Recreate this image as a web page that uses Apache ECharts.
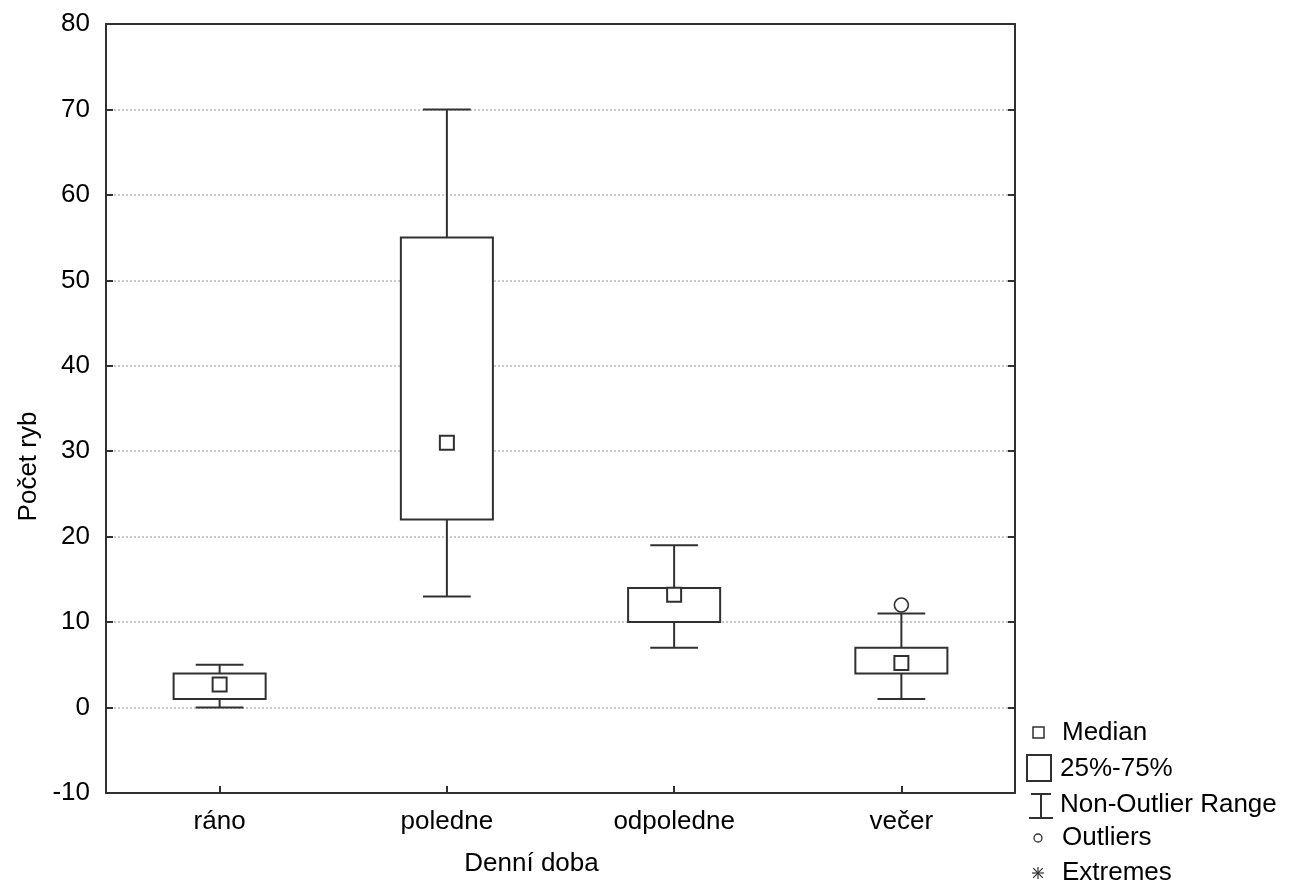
<!DOCTYPE html>
<html>
<head>
<meta charset="utf-8">
<script src="https://cdn.jsdelivr.net/npm/echarts@6/dist/echarts.min.js"></script>
<style>
  html, body { margin: 0; padding: 0; background: #fff; }
  #chart { width: 1289px; height: 884px; }
</style>
</head>
<body>
<div id="chart"></div>
<script>
// Počet ryb podle denní doby – krabicové grafy
const categories = ['ráno', 'poledne', 'odpoledne', 'večer'];
const minValues = [0, 13, 7, 1];        // spodní hranice rozsahu bez odlehlých hodnot
const q1Values = [1, 22, 10, 4];        // 25 %
const medianValues = [2.7, 31, 13.2, 5.2];
const q3Values = [4, 55, 14, 7];        // 75 %
const maxValues = [5, 70, 19, 11];      // horní hranice rozsahu bez odlehlých hodnot
const outlierPoints = [['večer', 12]];
const yMin = -10, yMax = 80, yStep = 10;

const legendLabels = ['Median', '25%-75%', 'Non-Outlier Range', 'Outliers', 'Extremes'];

const INK = '#303030';
const FONT = 'Liberation Sans, Arial, sans-serif';
const FS = 26;

const boxData = categories.map((c, i) =>
  [i, minValues[i], q1Values[i], medianValues[i], q3Values[i], maxValues[i]]);

function renderBox(params, api) {
  const idx = api.value(0);
  const band = api.size([1, 0])[0];
  const boxW = band * 0.405;
  const capW = band * 0.21;
  const pMin = api.coord([idx, api.value(1)]);
  const pQ1 = api.coord([idx, api.value(2)]);
  const pMed = api.coord([idx, api.value(3)]);
  const pQ3 = api.coord([idx, api.value(4)]);
  const pMax = api.coord([idx, api.value(5)]);
  const x = pMin[0];
  const ls = { stroke: INK, lineWidth: 2, fill: null };
  const sq = 14;
  return {
    type: 'group',
    children: [
      { type: 'line', shape: { x1: x, y1: pMax[1], x2: x, y2: pQ3[1] }, style: ls },
      { type: 'line', shape: { x1: x - capW / 2, y1: pMax[1], x2: x + capW / 2, y2: pMax[1] }, style: ls },
      { type: 'line', shape: { x1: x, y1: pQ1[1], x2: x, y2: pMin[1] }, style: ls },
      { type: 'line', shape: { x1: x - capW / 2, y1: pMin[1], x2: x + capW / 2, y2: pMin[1] }, style: ls },
      { type: 'rect', shape: { x: x - boxW / 2, y: pQ3[1], width: boxW, height: pQ1[1] - pQ3[1] },
        style: { stroke: INK, lineWidth: 2, fill: '#fff' } },
      { type: 'rect', shape: { x: x - sq / 2, y: pMed[1] - sq / 2, width: sq, height: sq },
        style: { stroke: INK, lineWidth: 2, fill: '#fff' } }
    ]
  };
}

// legenda vpravo dole
const legendX = 1060;
const rowY = [733, 769, 805, 838, 873];
const legendGraphics = [];
legendGraphics.push({ type: 'rect', shape: { x: 1033, y: 727, width: 11, height: 11 },
  style: { stroke: INK, lineWidth: 1.5, fill: '#fff' } });
legendGraphics.push({ type: 'rect', shape: { x: 1027, y: 755, width: 24, height: 26 },
  style: { stroke: INK, lineWidth: 2, fill: '#fff' } });
legendGraphics.push({ type: 'polyline', shape: { points: [[1031, 794], [1051, 794]] }, style: { stroke: INK, lineWidth: 2 } });
legendGraphics.push({ type: 'polyline', shape: { points: [[1041, 794], [1041, 818]] }, style: { stroke: INK, lineWidth: 2 } });
legendGraphics.push({ type: 'polyline', shape: { points: [[1029, 818], [1053, 818]] }, style: { stroke: INK, lineWidth: 2 } });
legendGraphics.push({ type: 'circle', shape: { cx: 1038, cy: 838, r: 4 }, style: { stroke: INK, lineWidth: 1.3, fill: '#fff' } });
// hvězdička pro extrémy
const ax = 1038, ay = 873, ar = 6;
legendGraphics.push({ type: 'polyline', shape: { points: [[ax - ar, ay], [ax + ar, ay]] }, style: { stroke: INK, lineWidth: 1.2 } });
legendGraphics.push({ type: 'polyline', shape: { points: [[ax, ay - ar], [ax, ay + ar]] }, style: { stroke: INK, lineWidth: 1.2 } });
legendGraphics.push({ type: 'polyline', shape: { points: [[ax - ar * 0.8, ay - ar * 0.8], [ax + ar * 0.8, ay + ar * 0.8]] }, style: { stroke: INK, lineWidth: 1.2 } });
legendGraphics.push({ type: 'polyline', shape: { points: [[ax - ar * 0.8, ay + ar * 0.8], [ax + ar * 0.8, ay - ar * 0.8]] }, style: { stroke: INK, lineWidth: 1.2 } });
legendLabels.forEach((t, i) => {
  legendGraphics.push({ type: 'text', x: i === 0 || i >= 3 ? legendX + 2 : legendX, y: rowY[i],
    style: { text: t, font: FS + 'px ' + FONT, fill: '#000', verticalAlign: 'middle', align: 'left' } });
});

const frameLine = { show: true, onZero: false, lineStyle: { color: INK, width: 2 } };
const tickStyle = { show: true, inside: true, length: 7, lineStyle: { color: INK, width: 2 } };

const chart = echarts.init(document.getElementById('chart'), null, { renderer: 'canvas' });
chart.setOption({
  backgroundColor: '#fff',
  animation: false,
  grid: { left: 106, right: 274, top: 24, bottom: 91 },
  xAxis: [{
    type: 'category',
    data: categories,
    boundaryGap: true,
    position: 'bottom',
    name: 'Denní doba',
    nameLocation: 'middle',
    nameGap: 58,
    nameTextStyle: { fontFamily: FONT, fontSize: FS, color: '#000', padding: [0, 58, 0, 0] },
    axisLine: frameLine,
    axisTick: Object.assign({}, tickStyle, { alignWithLabel: true }),
    axisLabel: { fontFamily: FONT, fontSize: FS, color: '#000', margin: 16 },
    splitLine: { show: false },
    z: 10
  }, {
    type: 'category',
    data: categories,
    position: 'top',
    axisLine: frameLine,
    axisTick: { show: false },
    axisLabel: { show: false },
    splitLine: { show: false },
    z: 10
  }],
  yAxis: [{
    type: 'value',
    min: yMin, max: yMax, interval: yStep,
    position: 'left',
    name: 'Počet ryb',
    nameLocation: 'middle',
    nameGap: 64,
    nameRotate: 90,
    nameTextStyle: { fontFamily: FONT, fontSize: FS, color: '#000', padding: [0, 116, 0, 0] },
    axisLine: frameLine,
    axisTick: tickStyle,
    axisLabel: { fontFamily: FONT, fontSize: FS, color: '#000', margin: 16 },
    splitLine: { show: true, lineStyle: { color: '#b8b8b8', width: 1.5, type: [2, 2] } },
    z: 10
  }, {
    type: 'value',
    position: 'right',
    min: yMin, max: yMax, interval: yStep,
    axisLine: frameLine,
    axisTick: tickStyle,
    axisLabel: { show: false },
    splitLine: { show: false },
    z: 10
  }],
  series: [{
    type: 'custom',
    name: '25%-75%',
    renderItem: renderBox,
    data: boxData,
    encode: { x: 0, y: [1, 2, 3, 4, 5] },
    z: 20
  }, {
    type: 'scatter',
    name: 'Outliers',
    data: outlierPoints,
    symbol: 'circle',
    symbolSize: 14,
    itemStyle: { color: '#fff', borderColor: INK, borderWidth: 1.6, opacity: 1 },
    z: 21
  }],
  graphic: legendGraphics
});
</script>
</body>
</html>
